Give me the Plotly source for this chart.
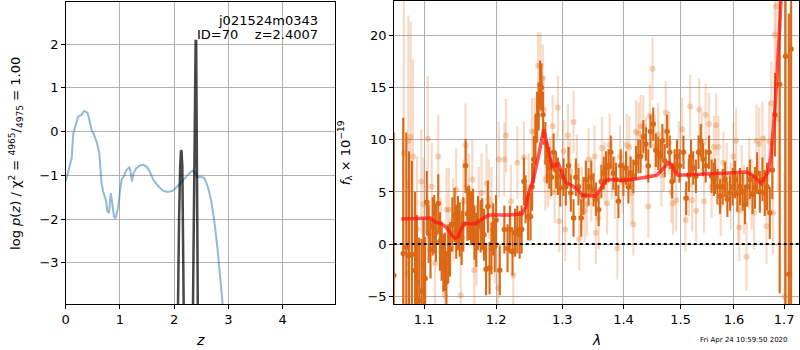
import plotly.graph_objects as go

# ---------------- left panel: log p(z) ----------------
z_blue = [0.0, 0.05, 0.11, 0.14, 0.19, 0.23, 0.29, 0.34, 0.40, 0.43, 0.48, 0.51, 0.57, 0.62, 0.66,
          0.69, 0.74, 0.77, 0.80, 0.83, 0.85, 0.89, 0.92, 0.97, 1.00, 1.03, 1.07, 1.12, 1.17, 1.19,
          1.22, 1.25, 1.30, 1.36, 1.43, 1.49, 1.55, 1.61, 1.70, 1.79, 1.88, 1.98, 2.07, 2.19, 2.28,
          2.34, 2.39, 2.43, 2.50, 2.56, 2.62, 2.68, 2.74, 2.80, 2.84, 2.89, 2.92]
lp_blue = [-1.14, -0.91, -0.61, -0.04, 0.19, 0.34, 0.38, 0.47, 0.43, 0.30, 0.02, -0.04, -0.23, -0.49, -1.18,
           -1.37, -1.56, -1.83, -1.85, -1.41, -1.56, -1.94, -1.98, -1.71, -1.37, -1.10, -1.03, -0.88, -0.82, -0.88,
           -1.14, -0.95, -0.84, -0.78, -0.76, -0.80, -0.91, -1.09, -1.24, -1.35, -1.38, -1.35, -1.24, -1.07, -0.95,
           -0.89, -0.95, -1.05, -1.03, -1.07, -1.26, -1.56, -2.05, -2.70, -3.31, -3.92, -4.30]

z_dark = [2.04, 2.065, 2.09, 2.11, 2.125, 2.135, 2.15, 2.17, 2.19, 2.21, 2.30,
          2.33, 2.35, 2.37, 2.385, 2.395, 2.405, 2.415, 2.43, 2.45]
lp_dark = [-7.0, -3.9, -2.0, -0.8, -0.43, -0.45, -0.8, -2.2, -4.3, -7.0, -20.0,
           -6.0, -3.5, -0.5, 1.6, 2.07, 2.07, 0.5, -3.0, -7.0]

# ---------------- right panel: spectrum ----------------
wave_dark = [1.0603, 1.0725, 1.0765, 1.0800, 1.0838, 1.0880, 1.0904, 1.0934, 1.0965, 1.0990,
             1.1013, 1.1035, 1.1060, 1.1085, 1.1114, 1.1135, 1.1157, 1.1189, 1.1212, 1.1236,
             1.1258, 1.1280, 1.1300, 1.1324, 1.1350, 1.1381, 1.1413, 1.1435, 1.1460, 1.1483,
             1.1510, 1.1533, 1.1565, 1.1590, 1.1615, 1.1640, 1.1670, 1.1690, 1.1715, 1.1740,
             1.1777, 1.1800, 1.1825, 1.1855, 1.1881, 1.1905, 1.1933, 1.1957, 1.1980, 1.2000,
             1.2053, 1.2120, 1.2167, 1.2201, 1.2240, 1.2278, 1.2312, 1.2347, 1.2376, 1.2410,
             1.2435, 1.2474, 1.2510, 1.2534, 1.2560, 1.2585, 1.2610, 1.2635, 1.2655, 1.2675,
             1.2700, 1.2736, 1.2761, 1.2798, 1.2829, 1.2864, 1.2900, 1.2931, 1.2968, 1.3020,
             1.3056, 1.3099, 1.3135, 1.3178, 1.3215, 1.3258, 1.3301, 1.3338, 1.3376, 1.3420,
             1.3464, 1.3501, 1.3539, 1.3584, 1.3629, 1.3668, 1.3706, 1.3747, 1.3785, 1.3829,
             1.3873, 1.3913, 1.3952, 1.3997, 1.4042, 1.4082, 1.4120, 1.4166, 1.4212, 1.4253,
             1.4291, 1.4338, 1.4384, 1.4425, 1.4464, 1.4511, 1.4558, 1.4600, 1.4639, 1.4673,
             1.4714, 1.4757, 1.4804, 1.4845, 1.4891, 1.4934, 1.4981, 1.5052, 1.5101, 1.5150,
             1.5190, 1.5231, 1.5280, 1.5329, 1.5371, 1.5413, 1.5462, 1.5524, 1.5574, 1.5617,
             1.5640, 1.5684, 1.5734, 1.5784, 1.5829, 1.5873, 1.5924, 1.5975, 1.6021, 1.6066,
             1.6117, 1.6169, 1.6215, 1.6260, 1.6311, 1.6364, 1.6410, 1.6455, 1.6509, 1.6561,
             1.6607, 1.6653, 1.6708, 1.6759, 1.6814, 1.6910, 1.7030, 1.7098, 1.7145]
flux_dark = [-3.0, -0.9, -0.3, -1.1, -1.0, -2.5, -3.7, -5.4, -4.5, -2.0,
             -3.3, 4.0, 1.0, -0.5, 1.7, 1.9, 1.1, 3.9, 0.25, -0.7,
             -1.8, -1.7, -3.6, -0.9, -0.5, 1.9, 2.8, 1.2, 2.0, 1.4,
             0.6, 1.9, 7.5, 2.9, 3.0, 2.5, 2.7, 1.1, 0.4, 2.0,
             1.7, 1.9, 0.9, -2.4, 3.6, -2.3, -0.4, 1.4, -0.2, 2.3,
             -2.5, 1.4, -0.4, 1.4, -0.7, 1.1, 1.4, 0.9, 1.4, 6.0,
             4.3, 2.65, 2.65, 5.5, 8.1, 9.9, 12.3, 13.2, 15.3, 15.0,
             12.4, 9.7, 7.8, 7.3, 6.4, 8.8, 7.1, 6.5, 5.4, 6.4,
             5.5, 7.5, 4.9, 2.5, 6.4, 5.5, 2.5, 4.6, 6.2, 5.5,
             6.4, 5.2, 4.3, 3.3, 6.0, 6.8, 7.3, 7.5, 8.8, 6.8,
             6.2, 4.1, 7.5, 6.2, 7.3, 5.5, 6.8, 6.5, 7.8, 8.4,
             8.4, 10.3, 9.6, 7.5, 10.8, 11.5, 9.0, 8.7, 8.4, 9.9,
             8.0, 10.8, 8.8, 6.0, 7.5, 8.4, 7.5, 8.8, 4.4, 6.6,
             8.4, 7.3, 6.5, 8.8, 9.9, 8.1, 7.5, 8.8, 6.5, 6.2,
             6.5, 5.5, 4.6, 5.5, 6.2, 4.3, 4.9, 5.5, 6.2, 4.9,
             5.5, 5.0, 3.8, 5.5, 6.2, 4.8, 5.4, 6.8, 5.0, 6.2,
             4.9, 5.5, 3.0, 7.1, 12.4, 15.3, 18.0, -2.9, 18.7]
err_dark = [13.7, 13.0, 11.0, 10.0, 9.0, 7.5, 6.5, 6.0, 5.0, 4.5,
            4.0, 3.0, 2.8, 2.8, 2.8, 2.8, 2.8, 2.8, 2.8, 2.8,
            2.8, 2.8, 2.8, 2.8, 2.6, 2.6, 2.6, 2.6, 2.6, 2.6,
            2.6, 2.6, 2.6, 2.6, 2.6, 2.6, 2.6, 2.6, 2.6, 2.6,
            2.5, 2.5, 2.5, 2.5, 2.5, 2.5, 2.5, 2.5, 2.5, 2.4,
            2.4, 2.3, 2.3, 2.3, 2.3, 2.3, 2.3, 2.3, 2.3, 2.3,
            2.3, 2.3, 2.3, 2.3, 2.3, 2.3, 2.3, 2.3, 2.3, 2.3,
            2.2, 2.0, 2.0, 2.0, 1.8, 1.8, 1.8, 1.8, 1.8, 1.8,
            1.8, 1.8, 1.8, 1.8, 1.8, 1.8, 1.8, 1.8, 1.8, 1.8,
            1.6, 1.6, 1.6, 1.6, 1.6, 1.6, 1.6, 1.6, 1.6, 1.6,
            1.6, 1.6, 1.6, 1.6, 1.6, 1.6, 1.6, 1.6, 1.6, 1.6,
            1.6, 1.6, 1.6, 1.6, 1.6, 1.6, 1.6, 1.6, 1.6, 1.6,
            1.6, 1.6, 1.6, 1.6, 1.6, 1.6, 1.6, 1.6, 1.6, 1.6,
            1.6, 1.6, 1.6, 1.6, 1.6, 1.6, 1.6, 1.6, 1.6, 1.6,
            1.7, 1.7, 1.7, 1.7, 1.7, 1.7, 1.7, 1.8, 1.8, 1.8,
            1.8, 1.8, 1.9, 1.9, 1.9, 1.9, 2.0, 2.0, 2.0, 2.1,
            2.2, 2.3, 2.5, 2.8, 4.0, 20.0, 25.0, 25.0, 25.0]

wave_light = [1.0733, 1.0780, 1.0791, 1.0822, 1.0852, 1.0904, 1.0962, 1.0993, 1.1048, 1.1101,
              1.1145, 1.1189, 1.1225, 1.1279, 1.1302, 1.1334, 1.1393, 1.1435, 1.1498, 1.1533,
              1.1565, 1.1579, 1.1612, 1.1659, 1.1687, 1.1719, 1.1752, 1.1791, 1.1862, 1.1895,
              1.1933, 1.1981, 1.2030, 1.2038, 1.2120, 1.2145, 1.2216, 1.2251, 1.2312, 1.2410,
              1.2484, 1.2534, 1.2575, 1.2625, 1.2660, 1.2696, 1.2711, 1.2736, 1.2776, 1.2813,
              1.2849, 1.2880, 1.2931, 1.2952, 1.3020, 1.3046, 1.3088, 1.3125, 1.3178, 1.3231,
              1.3269, 1.3311, 1.3355, 1.3392, 1.3420, 1.3464, 1.3518, 1.3539, 1.3584, 1.3639,
              1.3684, 1.3723, 1.3767, 1.3802, 1.3856, 1.3896, 1.3940, 1.3985, 1.4053, 1.4098,
              1.4137, 1.4166, 1.4212, 1.4253, 1.4291, 1.4338, 1.4384, 1.4425, 1.4453, 1.4499,
              1.4540, 1.4600, 1.4656, 1.4697, 1.4733, 1.4793, 1.4833, 1.4863, 1.4922, 1.4970,
              1.5030, 1.5089, 1.5150, 1.5174, 1.5211, 1.5284, 1.5341, 1.5390, 1.5432, 1.5462,
              1.5524, 1.5574, 1.5617, 1.5659, 1.5702, 1.5746, 1.5797, 1.5860, 1.5937, 1.5988,
              1.6040, 1.6085, 1.6104, 1.6149, 1.6195, 1.6246, 1.6298, 1.6345, 1.6392, 1.6442,
              1.6495, 1.6561, 1.6607, 1.6640, 1.6693, 1.6740, 1.6774, 1.6808, 1.6841, 1.6876,
              1.7010]
flux_light = [8.7, -2.8, 9.9, 10.3, 8.4, 1.4, 6.0, 3.8, 10.1, 5.5,
              -1.8, 8.4, 0.5, -4.9, 3.3, 3.3, 2.3, 5.2, -4.9, 4.1,
              9.5, 5.5, 4.9, 6.2, -2.5, -0.2, 3.6, 4.9, 5.8, 4.3,
              3.8, -0.2, -4.2, 8.1, 8.1, 10.4, 4.1, -3.0, 7.8, 8.3,
              5.4, 10.8, 10.8, 17.1, 17.1, 15.9, 12.9, 6.2, 6.5, 7.3,
              11.3, 5.0, 13.1, 2.2, 8.9, 1.4, 10.4, 7.0, 11.7, 7.5,
              0.5, 4.4, 3.2, 3.8, 8.1, 5.2, 8.4, 1.1, 2.5, 9.2,
              6.8, 3.9, 9.5, 7.3, 5.4, -0.4, 8.4, 5.9, 9.5, 9.3,
              4.9, 1.9, 10.8, 10.6, 11.3, 11.3, 9.2, 3.6, 12.3, 16.8,
              9.4, 10.5, 6.6, 8.1, 12.6, 9.7, 5.0, 3.9, 4.2, 8.8,
              11.0, 2.3, 5.7, 13.2, 4.2, 3.2, 12.9, 9.7, 4.1, 12.4,
              11.5, 5.5, 9.3, 11.4, 9.3, 3.8, 7.8, 6.5, 4.6, 8.4,
              9.9, 3.3, 1.6, 6.2, 4.3, -1.2, 6.8, 4.8, 3.0, 9.9,
              9.6, 10.1, 6.8, 1.7, 9.8, 13.5, 3.0, 20.1, 22.8, 12.0,
              -5.0]
err_light = [15.0, 9.0, 12.0, 11.0, 9.3, 7.0, 5.0, 4.5, 6.0, 4.2,
             4.0, 4.0, 4.0, 4.0, 4.0, 4.0, 4.0, 4.0, 4.0, 4.0,
             4.0, 4.0, 3.8, 3.8, 3.8, 3.8, 3.8, 3.8, 3.8, 3.8,
             3.6, 3.6, 3.6, 3.6, 3.5, 3.5, 3.5, 3.5, 3.5, 3.4,
             3.3, 3.2, 3.2, 3.2, 3.2, 3.2, 3.2, 3.0, 3.0, 3.0,
             3.0, 3.0, 3.0, 3.0, 3.0, 3.0, 3.0, 3.0, 3.0, 3.0,
             3.0, 3.0, 3.0, 3.0, 3.0, 3.0, 3.0, 3.0, 3.0, 3.0,
             3.0, 3.0, 3.0, 3.0, 3.0, 3.0, 3.0, 3.0, 3.0, 3.0,
             3.0, 3.0, 3.0, 3.0, 3.0, 3.0, 3.0, 3.0, 3.0, 3.0,
             3.0, 3.0, 3.0, 3.0, 3.0, 3.0, 3.0, 3.0, 3.0, 3.0,
             3.0, 3.0, 3.0, 3.0, 3.0, 3.0, 3.0, 3.0, 3.0, 3.0,
             3.0, 3.0, 3.0, 3.0, 3.0, 3.0, 3.0, 3.2, 3.2, 3.2,
             3.2, 3.2, 3.2, 3.3, 3.3, 3.3, 3.4, 3.4, 3.5, 3.5,
             3.5, 3.6, 3.6, 3.6, 3.8, 4.0, 4.0, 5.0, 6.0, 7.0,
             12.0]

wave_model = [1.070, 1.085, 1.100, 1.108, 1.115, 1.122, 1.130, 1.137, 1.142, 1.146,
              1.150, 1.155, 1.163, 1.170, 1.180, 1.190, 1.200, 1.220, 1.238, 1.244,
              1.248, 1.255, 1.263, 1.268, 1.271, 1.276, 1.284, 1.290, 1.294, 1.300,
              1.305, 1.316, 1.325, 1.332, 1.343, 1.353, 1.362, 1.370, 1.376, 1.400,
              1.420, 1.440, 1.457, 1.468, 1.478, 1.484, 1.490, 1.495, 1.527, 1.557,
              1.600, 1.624, 1.636, 1.643, 1.654, 1.661, 1.668, 1.673, 1.677, 1.681,
              1.685, 1.689, 1.694, 1.698]
flux_model = [2.4, 2.45, 2.5, 2.5, 2.1, 2.0, 1.6, 0.9, 0.55, 0.7,
              1.4, 2.0, 1.95, 1.95, 2.4, 2.8, 2.8, 2.8, 2.9, 3.6,
              4.9, 6.1, 8.4, 10.0, 11.0, 9.7, 7.4, 7.6, 7.7, 6.7,
              5.9, 5.6, 5.2, 4.7, 4.65, 4.6, 5.3, 6.1, 6.2, 6.1,
              6.25, 6.4, 6.6, 7.2, 7.8, 7.6, 6.9, 6.6, 6.7, 6.8,
              6.85, 6.9, 6.6, 6.3, 5.8, 6.4, 7.0, 8.5, 10.5, 12.8,
              15.8, 18.7, 23.4, 27.0]

z_ticks = [0, 1, 2, 3, 4]
lp_ticks = [-3, -2, -1, 0, 1, 2]
wave_ticks = [1.1, 1.2, 1.3, 1.4, 1.5, 1.6, 1.7]
flux_ticks = [-5, 0, 5, 10, 15, 20]

W, H = 800, 350
FONT = "DejaVu Sans"
DARK = "rgb(219,104,20)"
LIGHT = "rgba(226,112,30,0.25)"
LIGHT_MK = "rgba(226,112,30,0.3)"


def px(x):
    return x / W


def py(y):
    return 1 - y / H


fig = go.Figure()

fig.add_trace(go.Scatter(x=z_blue, y=lp_blue, mode="lines", xaxis="x", yaxis="y",
                         line=dict(color="rgba(31,119,180,0.5)", width=2), showlegend=False))
fig.add_trace(go.Scatter(x=z_dark, y=lp_dark, mode="lines", xaxis="x", yaxis="y",
                         line=dict(color="rgba(0,0,0,0.72)", width=2.5), showlegend=False))

fig.add_trace(go.Scatter(x=wave_light, y=flux_light, mode="markers", xaxis="x2", yaxis="y2",
                         marker=dict(color=LIGHT_MK, size=6),
                         error_y=dict(type="data", array=err_light, visible=True, color=LIGHT,
                                      thickness=2.2, width=0),
                         showlegend=False))
fig.add_trace(go.Scatter(x=wave_dark, y=flux_dark, mode="markers", xaxis="x2", yaxis="y2",
                         marker=dict(color=DARK, size=5.5),
                         error_y=dict(type="data", array=err_dark, visible=True, color=DARK,
                                      thickness=2.1, width=0),
                         showlegend=False))
fig.add_trace(go.Scatter(x=wave_model, y=flux_model, mode="lines", xaxis="x2", yaxis="y2",
                         line=dict(color="rgba(255,20,20,0.72)", width=3.5), showlegend=False))

fig.add_shape(type="line", xref="x2 domain", yref="y2", x0=0, x1=1, y0=0, y1=0,
              line=dict(color="black", width=2, dash="dot"))

axis_common = dict(showline=True, mirror=True, linecolor="black", linewidth=1,
                   ticks="outside", ticklen=3.5, tickcolor="black", tickwidth=1,
                   showgrid=True, gridcolor="#b0b0b0", gridwidth=1, zeroline=False,
                   tickfont=dict(family=FONT, size=13, color="black"))

fig.update_layout(
    width=W, height=H, margin=dict(l=0, r=0, t=0, b=0),
    paper_bgcolor="white", plot_bgcolor="white",
    xaxis=dict(domain=[px(62), px(333)], range=[0, 4.97], tickvals=z_ticks,
               anchor="y", **axis_common),
    yaxis=dict(domain=[py(304), py(2)], range=[-3.94, 2.96], tickvals=lp_ticks,
               anchor="x", **axis_common),
    xaxis2=dict(domain=[px(391.7), px(799)], type="log", range=[0.02541, 0.23828],
                tickvals=wave_ticks, ticktext=[str(t) for t in wave_ticks],
                anchor="y2", **axis_common),
    yaxis2=dict(domain=[py(304), py(1)], range=[-5.74, 23.3], tickvals=flux_ticks,
                anchor="x2", **axis_common),
)

ann = [
    dict(x=px(12), y=py(153), textangle=-90,
         text="log <i>p</i>(<i>z</i>) / χ<sup>2</sup> = <sup>4965</sup>/<sub>4975</sub> = 1.00",
         font=dict(size=13)),
    dict(x=px(197), y=py(340), text="<i>z</i>", font=dict(size=14)),
    dict(x=px(343), y=py(153), textangle=-90,
         text="<i>f</i><sub>λ</sub> × 10<sup>−19</sup>", font=dict(size=13)),
    dict(x=px(595), y=py(340), text="<i>λ</i>", font=dict(size=14)),
    dict(x=px(318), y=py(20), xanchor="right", text="j021524m0343", font=dict(size=13)),
    dict(x=px(318), y=py(34.5), xanchor="right",
         text="ID=70\u00a0\u00a0\u00a0\u00a0z=2.4007", font=dict(size=13)),
    dict(x=px(744), y=py(340), text="Fri Apr 24 10:59:50 2020", font=dict(size=7)),
]
for a in ann:
    a.setdefault("xanchor", "center")
    a.update(xref="paper", yref="paper", yanchor="middle", showarrow=False)
    a["font"] = dict(family=FONT, color="black", size=a["font"]["size"])
    fig.add_annotation(**a)

fig.write_html("out.html", config={"displayModeBar": False},
               post_script="document.body.style.margin='0';document.body.style.overflow='hidden';")
